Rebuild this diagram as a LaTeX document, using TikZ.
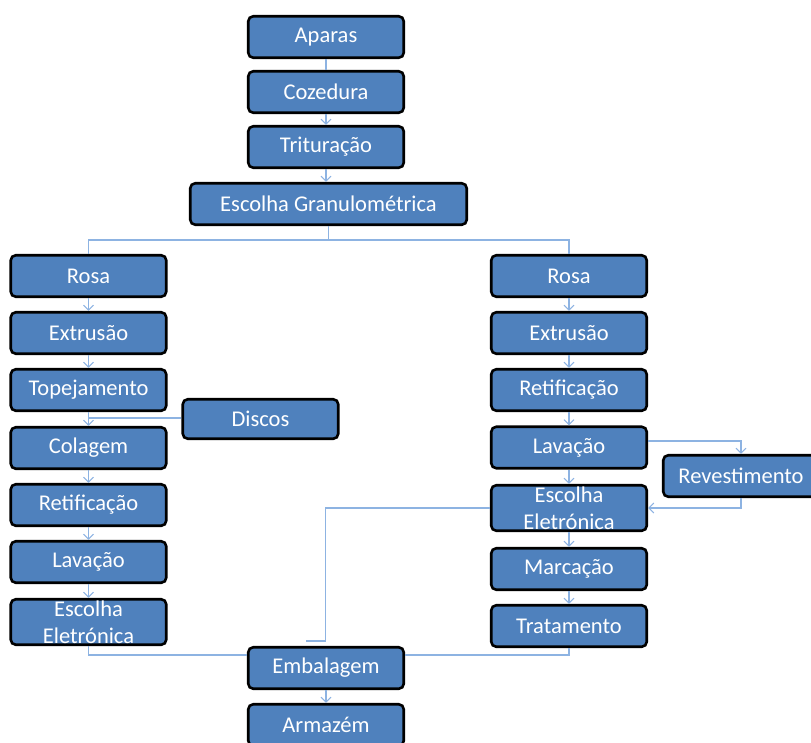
\documentclass[tikz,border=0pt]{standalone}
\usepackage{fontspec}
\setmainfont{Carlito}
\usetikzlibrary{arrows.meta,calc}
\definecolor{boxblue}{HTML}{4F81BD}
\definecolor{linkblue}{HTML}{8DB3E2}
\begin{document}
\begin{tikzpicture}[x=1pt,y=-1pt,
  stage/.style={draw=black, line width=2.6pt, fill=boxblue, rounded corners=5pt,
    text=white, font=\fontsize{22.5}{27}\selectfont, minimum width=155.5pt,
    minimum height=41.5pt, inner sep=0pt, align=center},
  tall/.style={stage, minimum height=45.5pt},
  link/.style={draw=linkblue, line width=1.1pt},
  flow/.style={link, -{Straight Barb[length=5pt,width=10pt]}}]
\useasboundingbox (0,0) rectangle (811,742);
\clip (0,0) rectangle (811,742);

% central trunk
\node[stage] (ap)  at (326,37)  {Aparas};
\node[stage] (coz) at (326,92)  {Cozedura};
\node[stage] (tri) at (326,147) {Trituração};
\node[stage, minimum width=276.5pt] (eg) at (328.5,204) {Escolha Granulométrica};

% left branch
\node[stage] (lr)   at (88.5,276) {Rosa};
\node[stage] (lex)  at (88.5,333) {Extrusão};
\node[stage] (ltop) at (88.5,390) {Topejamento};
\node[stage] (lcol) at (88.5,448) {Colagem};
\node[stage] (lret) at (88.5,505) {Retificação};
\node[stage] (llav) at (88.5,562) {Lavação};
\node[tall]  (lesc) at (88.5,622) {Escolha\\Eletrónica};
\node[stage, minimum height=39.5pt] (disc) at (260.5,419) {Discos};

% right branch
\node[stage] (rr)   at (569,276)   {Rosa};
\node[stage] (rex)  at (569,333)   {Extrusão};
\node[stage] (rret) at (569,390)   {Retificação};
\node[stage] (rlav) at (569,447.5) {Lavação};
\node[tall]  (resc) at (569,508)   {Escolha\\Eletrónica};
\node[stage] (rmar) at (569,569)   {Marcação};
\node[stage] (rtra) at (569,626)   {Tratamento};
\node[stage] (rev)  at (741,476)   {Revestimento};

% packing
\node[stage] (emb) at (326,668) {Embalagem};
\node[stage] (arm) at (326,725) {Armazém};

% trunk connectors
\draw[link] (ap) -- (coz);
\draw[flow] (coz) -- (tri);
\draw[flow] (tri.south) -- (tri.south |- eg.north);
\coordinate (split) at (328.5,240);
\draw[link] (eg.south) -- (split);
\draw[link] (lr.north) -- (lr.north |- split) -- (rr.north |- split) -- (rr.north);

% left chain
\draw[flow] (lr) -- (lex);
\draw[flow] (lex) -- (ltop);
\draw[flow] (ltop) -- (lcol);
\draw[flow] (lcol) -- (lret);
\draw[flow] (lret) -- (llav);
\draw[flow] (llav) -- (lesc);
\coordinate (djoin) at (88.5,418);
\draw[link] (disc.west |- djoin) -- (djoin);

% right chain
\draw[flow] (rr) -- (rex);
\draw[flow] (rex) -- (rret);
\draw[flow] (rret) -- (rlav);
\draw[flow] (rlav) -- (resc);
\draw[flow] (resc) -- (rmar);
\draw[flow] (rmar) -- (rtra);
\draw[flow] ($(rlav.east)+(0,-6.5)$) -| (rev.north);
\draw[flow] (rev.south) |- (resc.east);
\coordinate (bend) at (325.5,641);
\coordinate (tick) at (306,641);
\draw[link] (resc.west) -| (bend) -- (tick);

% into packing
\draw[link] (lesc.south) |- ($(emb.west)+(0,-13)$);
\draw[link] (rtra.south) |- ($(emb.east)+(0,-13)$);
\draw[flow] (emb) -- (arm);
\end{tikzpicture}
\end{document}
